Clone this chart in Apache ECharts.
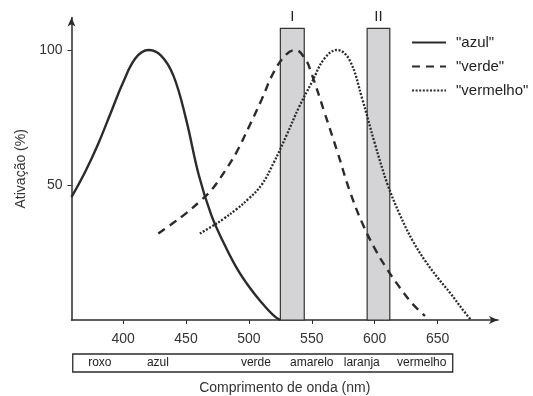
<!DOCTYPE html>
<html>
<head>
<meta charset="utf-8">
<script src="https://cdn.jsdelivr.net/npm/echarts@6/dist/echarts.min.js"></script>
<style>html,body{margin:0;padding:0;background:#fff}#c{width:533px;height:396px}</style>
</head>
<body>
<div id="c"></div>
<script>
// ---- data ----
const azulNm  = [359, 370, 380, 390, 400, 410, 420, 430, 440, 450, 460, 470, 480, 490, 500, 510, 520, 525];
const azulVal = [45.5, 55, 65, 76.5, 88, 97, 100, 98, 90.5, 74.5, 54, 39, 28.5, 19.5, 12.4, 6.5, 1.5, 0];

const verdeNm  = [428, 440, 450, 460, 470, 480, 490, 500, 510, 520, 530, 537, 545, 550, 560, 570, 580, 590, 600, 610, 620, 630, 640];
const verdeVal = [32, 36, 39.5, 43.5, 48, 54.5, 62, 71.5, 81.5, 92, 98.5, 100, 96.5, 91, 77, 62.8, 48, 36, 26.5, 18.7, 12, 6, 1.5];

const vermelhoNm  = [461, 470, 480, 490, 500, 510, 520, 530, 540, 550, 560, 570, 580, 590, 600, 610, 620, 630, 640, 650, 660, 670, 676];
const vermelhoVal = [32, 34.5, 37.5, 41, 45, 50, 58.5, 68.5, 79, 88, 96.8, 100, 96.3, 82, 65.5, 50.5, 39, 29.5, 22, 15.7, 10, 3.8, 0.3];

const seriesNames = ['"azul"', '"verde"', '"vermelho"'];

const bandLabels = ['I', 'II'];
const bandStart  = [525, 594];
const bandEnd    = [544, 612];
const bandTop    = 108;

const xTicks = [400, 450, 500, 550, 600, 650];
const yTicks = [50, 100];

const colorNames   = ['roxo', 'azul', 'verde', 'amarelo', 'laranja', 'vermelho'];
const colorCenters = [381.5, 427.7, 505.6, 550, 589.7, 637.4];
const colorBoxRange = [360, 662];

// ---- chart ----
const pairs = (xs, ys) => xs.map((x, i) => [x, ys[i]]);
const ink = '#2b2b2b';
const font = 'Liberation Sans, Arial, sans-serif';

const chart = echarts.init(document.getElementById('c'), null, {renderer: 'canvas'});

const option = {
  animation: false,
  backgroundColor: '#fff',
  textStyle: {fontFamily: font},
  grid: {left: 71.5, top: 17.6, width: 426.5, height: 302.4, containLabel: false, outerBoundsMode: 'none'},
  xAxis: {
    type: 'value', min: 359, max: 698,
    axisLine: {show: true, symbol: ['none', 'arrow'], symbolSize: [6, 9], lineStyle: {color: ink, width: 1.5}},
    axisTick: {show: true, customValues: xTicks, length: 4, lineStyle: {color: ink}},
    axisLabel: {customValues: xTicks, color: '#333', fontSize: 14, margin: 12, fontFamily: font},
    splitLine: {show: false},
    name: 'Comprimento de onda (nm)', nameLocation: 'middle', nameGap: 61,
    nameTextStyle: {color: '#333', fontSize: 14, fontFamily: font}
  },
  yAxis: {
    type: 'value', min: 0, max: 112,
    axisLine: {show: true, symbol: ['none', 'arrow'], symbolSize: [6, 9], lineStyle: {color: ink, width: 1.5}},
    axisTick: {show: true, customValues: yTicks, length: 4, lineStyle: {color: ink}},
    axisLabel: {customValues: yTicks, color: '#333', fontSize: 14, margin: 9, fontFamily: font},
    splitLine: {show: false},
    name: 'Ativação (%)', nameLocation: 'middle', nameGap: 42, nameRotate: 90,
    nameTextStyle: {color: '#333', fontSize: 14, fontFamily: font}
  },
  legend: {
    orient: 'vertical', left: 411, top: 35, padding: 0, itemWidth: 34, itemHeight: 12, itemGap: 9,
    data: seriesNames,
    itemStyle: {opacity: 0},
    textStyle: {color: '#222', fontSize: 15, fontFamily: font, padding: [0, 0, 0, 5]}
  },
  series: [
    {
      type: 'line', name: 'bands', data: [], silent: true, z: 1,
      markArea: {
        silent: true,
        itemStyle: {color: '#d4d4d6', borderColor: '#333', borderWidth: 1.2},
        label: {show: true, position: 'top', distance: 3, color: '#222', fontSize: 15, fontFamily: font},
        data: bandLabels.map((l, i) => [{name: l, xAxis: bandStart[i], yAxis: 0}, {xAxis: bandEnd[i], yAxis: bandTop}])
      }
    },
    {
      type: 'line', name: seriesNames[0], data: pairs(azulNm, azulVal), smooth: 0.4, symbol: 'none', z: 3,
      lineStyle: {color: ink, width: 2.4, type: 'solid'}, itemStyle: {color: ink}
    },
    {
      type: 'line', name: seriesNames[1], data: pairs(verdeNm, verdeVal), smooth: 0.4, symbol: 'none', z: 3,
      lineStyle: {color: ink, width: 2.4, type: [8, 6]}, itemStyle: {color: ink}
    },
    {
      type: 'line', name: seriesNames[2], data: pairs(vermelhoNm, vermelhoVal), smooth: 0.4, symbol: 'none', z: 3,
      lineStyle: {color: ink, width: 2.3, type: [2, 1.6]}, itemStyle: {color: ink}
    }
  ]
};
chart.setOption(option);

// colour-name box beneath the axis, positioned via the x scale
const px = v => chart.convertToPixel({xAxisIndex: 0}, v);
const x0 = px(colorBoxRange[0]), x1 = px(colorBoxRange[1]);
const gfx = [{
  type: 'rect', shape: {x: x0, y: 354, width: x1 - x0, height: 18},
  style: {fill: '#fff', stroke: ink, lineWidth: 1.3}
}];
colorNames.forEach((n, i) => {
  gfx.push({
    type: 'text', x: px(colorCenters[i]), y: 363,
    style: {text: n, fill: '#222', font: '12px ' + font, align: 'center', verticalAlign: 'middle'}
  });
});
chart.setOption({graphic: gfx});
</script>
</body>
</html>
